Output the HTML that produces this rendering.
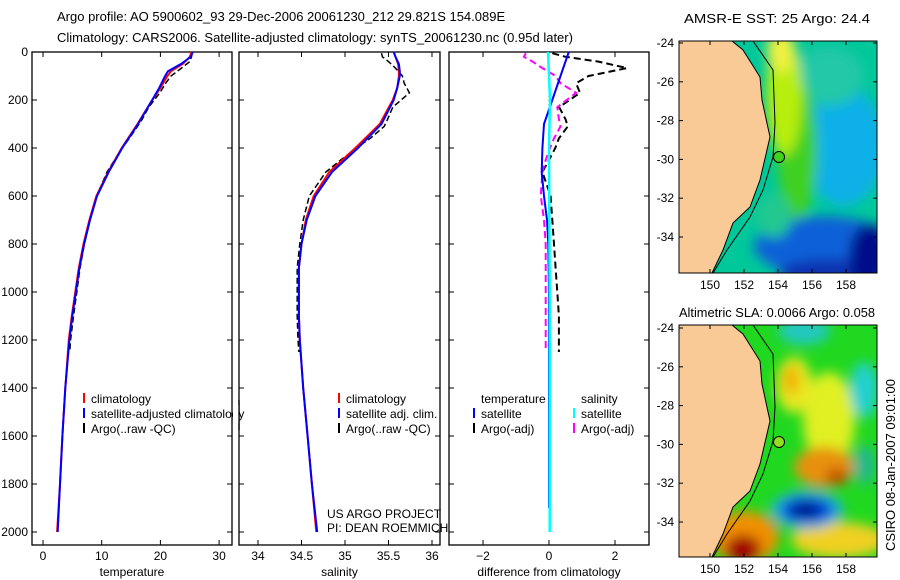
<!DOCTYPE html>
<html><head><meta charset="utf-8"><style>
html,body{margin:0;padding:0;background:#fff;}
svg{display:block;font-family:"Liberation Sans",sans-serif;}
</style></head><body>
<svg id="fig" width="900" height="580" viewBox="0 0 900 580">
<defs>
<filter id="blur" x="-20%" y="-20%" width="140%" height="140%"><feGaussianBlur stdDeviation="6"/></filter>
<clipPath id="clip1"><rect x="0" y="0" width="198" height="232"/></clipPath>
</defs>
<text x="57" y="21" font-size="13">Argo profile: AO 5900602_93 29-Dec-2006 20061230_212 29.821S 154.089E</text>
<text x="57" y="42" font-size="13">Climatology: CARS2006. Satellite-adjusted climatology: synTS_20061230.nc (0.95d later)</text>
<g id="charts"></g>

<!-- Map 1 -->
<g transform="translate(679,41)">
 <g clip-path="url(#clip1)">
  <rect width="198" height="232" fill="#00c89a"/>
  <g filter="url(#blur)">
   <ellipse cx="165" cy="105" rx="40" ry="60" fill="#10b0e8"/>
   <ellipse cx="150" cy="35" rx="35" ry="30" fill="#20c8a8"/>
   <ellipse cx="118" cy="110" rx="20" ry="70" fill="#40d020"/>
   <ellipse cx="105" cy="55" rx="18" ry="60" fill="#b8ee10"/>
   <ellipse cx="102" cy="10" rx="14" ry="22" fill="#f0f040"/>
   <ellipse cx="145" cy="205" rx="70" ry="30" fill="#1060d8"/>
   <ellipse cx="150" cy="232" rx="50" ry="14" fill="#0830b0"/>
   <ellipse cx="190" cy="215" rx="20" ry="32" fill="#00108a"/>
   <ellipse cx="95" cy="175" rx="18" ry="22" fill="#20c890"/>
  </g>
  <polygon points="0,0 53,0 64,9 81,36 83,59 91,96 81,139 71,166 54,182 44,209 33,232 0,232" fill="#f9c996" stroke="#000" stroke-width="1"/>
  <polyline points="74,0 94,29 96,82 94,116 84,149 71,176 48,209 34,232" fill="none" stroke="#000" stroke-width="1"/>
  <circle cx="100" cy="116" r="5.5" fill="#40d020" stroke="#000"/>
 </g>
 <rect width="198" height="232" fill="none" stroke="#000"/>
</g>
<!-- Map 2 -->
<g transform="translate(679,325)">
 <g clip-path="url(#clip1)">
  <rect width="198" height="232" fill="#20d820"/>
  <g filter="url(#blur)">
   <ellipse cx="125" cy="6" rx="26" ry="14" fill="#20c8c0"/>
   <ellipse cx="150" cy="95" rx="26" ry="48" fill="#e0f020"/>
   <ellipse cx="115" cy="60" rx="18" ry="28" fill="#e8e820"/>
   <ellipse cx="112" cy="55" rx="8" ry="15" fill="#f0b000"/>
   <ellipse cx="185" cy="65" rx="14" ry="28" fill="#20d0d0"/>
   <ellipse cx="185" cy="140" rx="11" ry="20" fill="#20b890"/>
   <ellipse cx="145" cy="142" rx="30" ry="20" fill="#e89010"/>
   <ellipse cx="158" cy="152" rx="12" ry="8" fill="#c05000"/>
   <ellipse cx="160" cy="215" rx="48" ry="18" fill="#f0d020"/>
   <ellipse cx="128" cy="185" rx="36" ry="19" fill="#20b0e8"/>
   <ellipse cx="128" cy="185" rx="26" ry="13" fill="#0040d0"/>
   <ellipse cx="126" cy="185" rx="14" ry="7" fill="#001080"/>
   <ellipse cx="66" cy="212" rx="34" ry="26" fill="#f09000"/>
   <ellipse cx="64" cy="224" rx="18" ry="14" fill="#a00000"/>
  </g>
  <polygon points="0,0 53,0 64,9 81,36 83,59 91,96 81,139 71,166 54,182 44,209 33,232 0,232" fill="#f9c996" stroke="#000" stroke-width="1"/>
  <polyline points="74,0 94,29 96,82 94,116 84,149 71,176 48,209 34,232" fill="none" stroke="#000" stroke-width="1"/>
  <circle cx="100" cy="117" r="5.5" fill="#90e020" stroke="#000"/>
 </g>
 <rect width="198" height="232" fill="none" stroke="#000"/>
</g>
<text x="684" y="23" font-size="13" textLength="186" lengthAdjust="spacingAndGlyphs">AMSR-E SST: 25 Argo: 24.4</text>
<text x="679" y="317" font-size="13" textLength="196" lengthAdjust="spacingAndGlyphs">Altimetric SLA: 0.0066 Argo: 0.058</text>
<text transform="translate(895,465) rotate(-90)" font-size="13" text-anchor="middle">CSIRO 08-Jan-2007 09:01:00</text>
<g id="mapaxes"></g>
</svg>
<script>
// ---- data ----
const depthT = [0,20,50,80,100,150,200,300,400,500,600,700,800,900,1000,1100,1200,1400,1600,1800,2000];
const climT = [25.3,25.0,23.8,21.8,21.2,20.0,18.6,16.1,13.4,11.1,9.1,7.9,6.9,6.1,5.5,4.9,4.4,3.8,3.3,2.9,2.4];
const satT  = [25.5,25.2,23.5,21.3,20.8,19.8,18.6,16.2,13.5,11.2,9.2,8.0,7.0,6.2,5.6,5.0,4.5,3.8,3.3,2.9,2.5];
const climS = [35.56,35.58,35.61,35.62,35.62,35.6,35.55,35.4,35.12,34.82,34.64,34.55,34.5,34.47,34.47,34.47,34.48,34.52,34.57,34.62,34.67];
const satS  = [35.56,35.58,35.62,35.63,35.63,35.6,35.56,35.42,35.15,34.85,34.66,34.56,34.5,34.47,34.47,34.47,34.48,34.52,34.57,34.62,34.68];
const depthArgo = [5,20,40,67,100,130,170,230,280,310,360,400,450,500,600,700,800,900,1000,1100,1200,1250];
const argoTdiff = [0.1,0.5,1.5,2.36,1.2,0.82,0.94,0.31,0.5,0.57,0.3,0.19,0.0,-0.2,0.05,0.1,0.15,0.2,0.25,0.3,0.3,0.3];
const argoSdiff = [-0.7,-0.76,-0.5,-0.2,0.2,0.35,0.82,0.25,0.3,0.35,0.15,0.03,-0.1,-0.2,-0.25,-0.15,-0.1,-0.1,-0.1,-0.1,-0.1,-0.1];
const argoT = [25.4,25.3,25.0,23.6,21.8,20.9,19.9,18.0,16.9,16.1,14.7,13.5,12.2,10.9,9.15,8.0,7.05,6.3,5.75,5.2,4.7,4.55];
const argoS = [35.42,35.43,35.5,35.58,35.66,35.68,35.74,35.55,35.49,35.45,35.29,35.13,34.95,34.78,34.59,34.52,34.48,34.45,34.45,34.45,34.46,34.47];
const depthSatD = [0,100,200,300,400,500,600,700,800,1000,1500,1900];
const satTdiff = [0.6,0.35,0.1,-0.15,-0.2,-0.22,-0.15,-0.06,-0.02,0,0,0];
const depthSatS = [0,200,400,1000,2000];
const satSdiff = [-0.03,0.03,0.0,0.02,0.02];
const depthTicks = [0,200,400,600,800,1000,1200,1400,1600,1800,2000];
const tTicks = [0,10,20,30];
const sTicks = [34,34.5,35,35.5,36];
const sTickLabels = ['34','34.5','35','35.5','36'];
const dTicks = [-2,0,2];
const latTicks = [-24,-26,-28,-30,-32,-34];
const lonTicks = [150,152,154,156,158];

const NS='http://www.w3.org/2000/svg';
const g=document.getElementById('charts');
function el(tag,attrs,parent){const e=document.createElementNS(NS,tag);for(const k in attrs)e.setAttribute(k,attrs[k]);(parent||g).appendChild(e);return e;}
const yD = d => 52 + d*0.24;
const panels = [
 {x0:32,x1:232,sx:v=>43+v*5.87,ticks:tTicks,labels:tTicks.map(String),title:'temperature',name:'temperature'},
 {x0:239,x1:440,sx:v=>258+(v-34)*87,ticks:sTicks,labels:sTickLabels,title:'salinity',name:'salinity'},
 {x0:449,x1:649,sx:v=>549+v*33,ticks:dTicks,labels:dTicks.map(v=>v===-2?'\u22122':String(v)),title:'difference from climatology',name:'difference'}
];
panels.forEach((p,i)=>{
 const r=el('rect',{x:p.x0,y:52,width:p.x1-p.x0,height:493,fill:'#fff',stroke:'#000','stroke-width':1.3});
 
 
 depthTicks.forEach(d=>{
  el('line',{x1:p.x0,x2:p.x0+5,y1:yD(d),y2:yD(d),stroke:'#000'});
  el('line',{x1:p.x1,x2:p.x1-5,y1:yD(d),y2:yD(d),stroke:'#000'});
  if(i===0){const t=el('text',{x:28,y:yD(d)+4,'font-size':12,'text-anchor':'end'});t.textContent=d;
   
   }
 });
 p.ticks.forEach((v,j)=>{
  const x=p.sx(v);
  el('line',{x1:x,x2:x,y1:545,y2:540,stroke:'#000'});
  el('line',{x1:x,x2:x,y1:52,y2:57,stroke:'#000'});
  const t=el('text',{x:x,y:560,'font-size':12,'text-anchor':'middle'});t.textContent=p.labels[j];
  
  
 });
 const tt=el('text',{x:(p.x0+p.x1)/2,y:576,'font-size':12,'text-anchor':'middle'});tt.textContent=p.title;
 
 
});
function line(xs,ds,sx,color,w,dash,name){
 const pts=xs.map((v,i)=>sx(v).toFixed(1)+','+yD(ds[i]).toFixed(1)).join(' ');
 const a={points:pts,fill:'none',stroke:color,'stroke-width':w};
 if(dash)a['stroke-dasharray']=dash;
 const pl=el('polyline',a);
 
 
}
const P=panels;
line(argoT,depthArgo,P[0].sx,'#000',1.5,'6,3','argo-temperature-line');
line(climT,depthT,P[0].sx,'#f00',2,null,'climatology-temperature-line');
line(satT,depthT,P[0].sx,'#00f',2,null,'satellite-temperature-line');
line(argoS,depthArgo,P[1].sx,'#000',1.5,'6,3','argo-salinity-line');
line(climS,depthT,P[1].sx,'#f00',2,null,'climatology-salinity-line');
line(satS,depthT,P[1].sx,'#00f',2,null,'satellite-salinity-line');
el('line',{x1:P[2].sx(0),x2:P[2].sx(0),y1:yD(150),y2:yD(1200),stroke:'#000','stroke-dasharray':'1,3'});
line(argoTdiff,depthArgo,P[2].sx,'#000',2,'7,4','argo-temperature-diff-line');
line(argoSdiff,depthArgo,P[2].sx,'#f0f',2,'7,4','argo-salinity-diff-line');
line(satTdiff,depthSatD,P[2].sx,'#00f',2,null,'satellite-temperature-diff-line');
line(satSdiff,depthSatS,P[2].sx,'#0ff',2.5,null,'satellite-salinity-diff-line');

function legend(x,y,color,text,name){
 if(color)el('line',{x1:x,x2:x,y1:y-10,y2:y,stroke:color,'stroke-width':2});
 const t=el('text',{x:x+7,y:y,'font-size':12});t.textContent=text;
 
 
}
legend(84,403,'#f00','climatology','legend-climatology');
legend(84,418,'#00f','satellite-adjusted climatology','legend-satellite-adjusted');
legend(84,433,'#000','Argo(..raw -QC)','legend-argo-raw');
el('rect',{x:233,y:405,width:5.5,height:18,fill:'#fff'});
el('line',{x1:239,x2:239,y1:400,y2:430,stroke:'#000','stroke-width':1.3});
legend(339,403,'#f00','climatology','legend-sal-climatology');
legend(339,418,'#00f','satellite adj. clim.','legend-sal-satellite');
legend(339,433,'#000','Argo(..raw -QC)','legend-sal-argo');
legend(474,403,null,'temperature','legend-temperature-header');
legend(574,403,null,'salinity','legend-salinity-header');
legend(474,418,'#00f','satellite','legend-diff-temp-satellite');
legend(474,433,'#000','Argo(-adj)','legend-diff-temp-argo');
legend(574,418,'#0ff','satellite','legend-diff-sal-satellite');
legend(574,433,'#f0f','Argo(-adj)','legend-diff-sal-argo');
const u1=el('text',{x:327,y:518,'font-size':12});u1.textContent='US ARGO PROJECT';


const u2=el('text',{x:327,y:532,'font-size':12});u2.textContent='PI: DEAN ROEMMICH';



const mg=document.getElementById('mapaxes');
[[41,43],[325,328]].forEach(([top,lat0])=>{
 latTicks.forEach(lat=>{
  const y=lat0+(-24-lat)*19.4;
  el('line',{x1:679,x2:683,y1:y,y2:y,stroke:'#000'},mg);
  el('line',{x1:877,x2:873,y1:y,y2:y,stroke:'#000'},mg);
  const t=el('text',{x:674,y:y+4,'font-size':12,'text-anchor':'end'},mg);t.textContent=lat;
  
  
 });
 lonTicks.forEach(lon=>{
  const x=710+(lon-150)*17;
  el('line',{x1:x,x2:x,y1:top+232,y2:top+228,stroke:'#000'},mg);
  el('line',{x1:x,x2:x,y1:top,y2:top+4,stroke:'#000'},mg);
  const t=el('text',{x:x,y:top+248,'font-size':12,'text-anchor':'middle'},mg);t.textContent=lon;
  
  
 });
});
</script>
</body></html>
